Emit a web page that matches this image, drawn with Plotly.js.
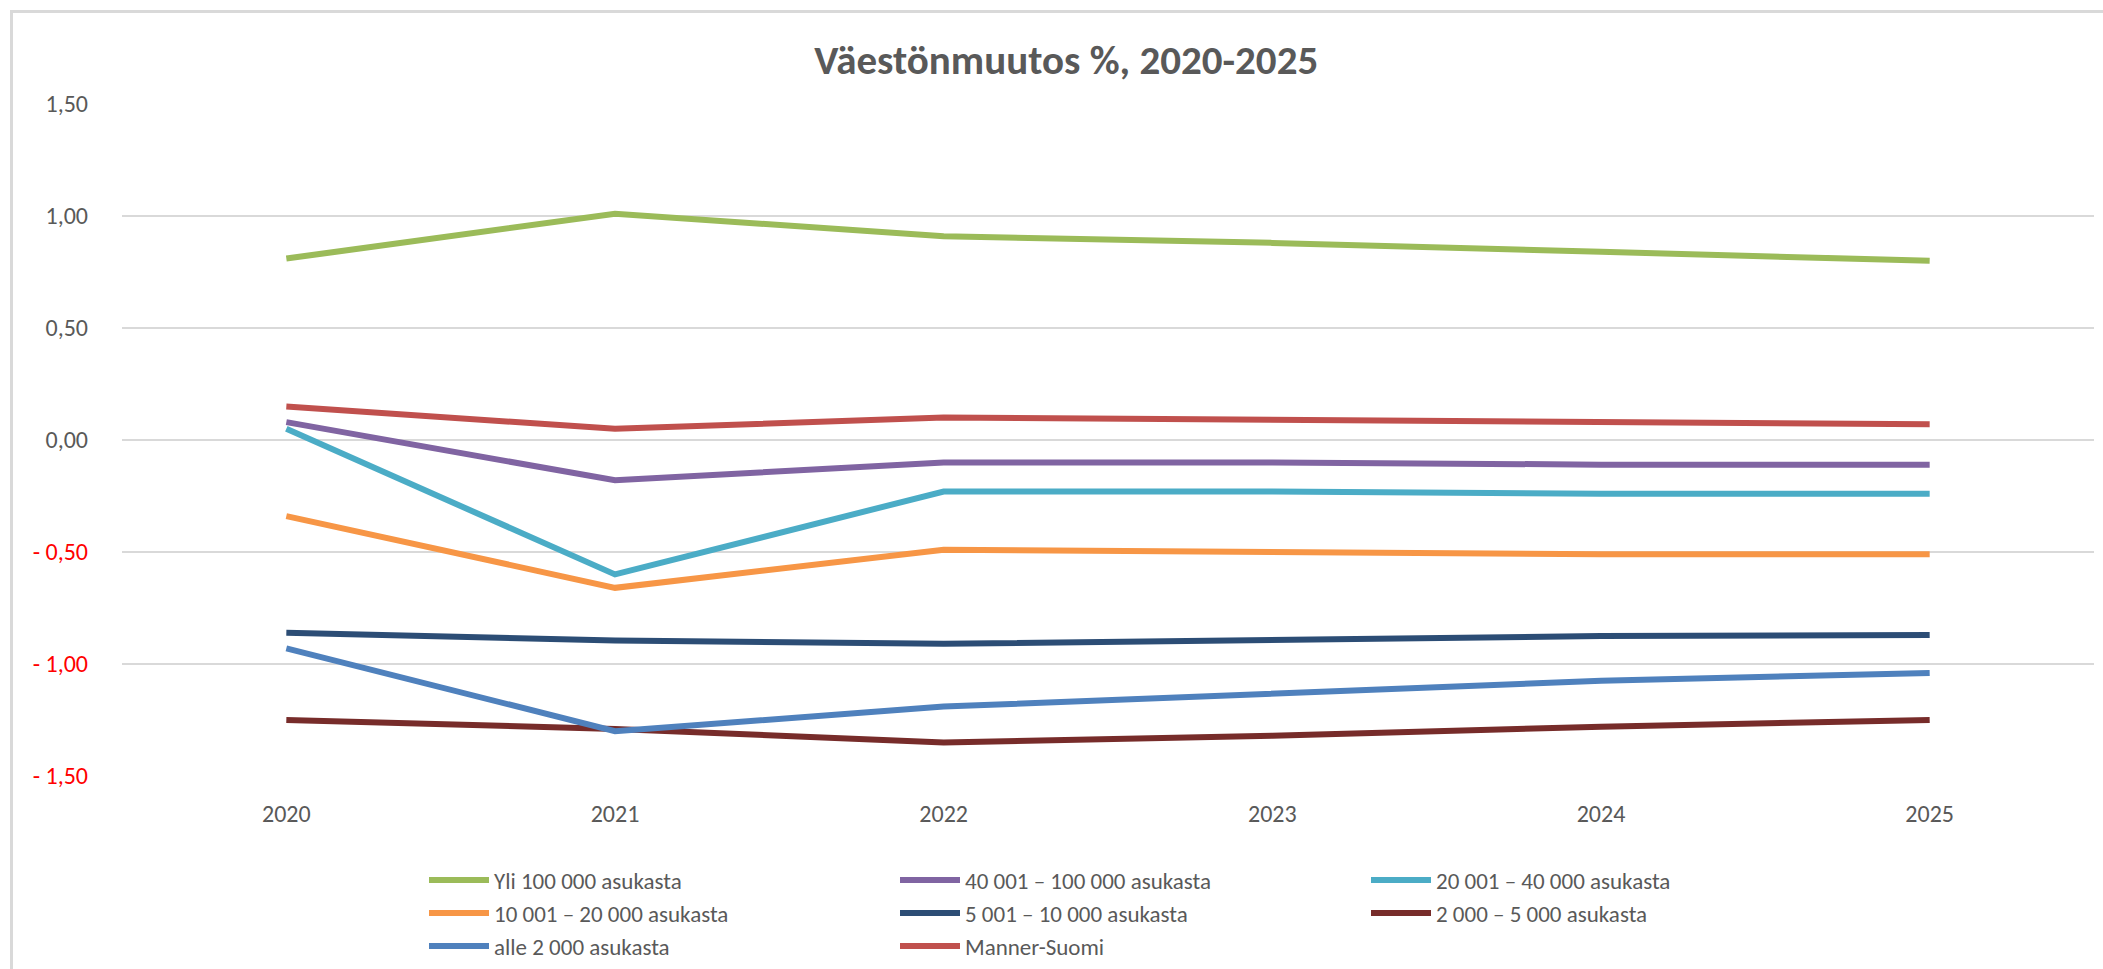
<!DOCTYPE html>
<html>
<head>
<meta charset="utf-8">
<script src="https://cdn.plot.ly/plotly-3.0.1.min.js"></script>
<style>
  html, body { margin: 0; padding: 0; background: #ffffff; overflow: hidden; }
  #frame { position: absolute; left: 10px; top: 10px; width: 2200px; height: 1100px;
           border-left: 3px solid #d9d9d9; border-top: 3px solid #d9d9d9; box-sizing: border-box; }
  #chart { position: absolute; left: 0; top: 0; width: 2103px; height: 1010px; }
</style>
</head>
<body>
<div id="frame"></div>
<div id="chart"></div>
<script>
// ---- Data ----
const years = ["2020", "2021", "2022", "2023", "2024", "2025"];

const seriesNames = [
  "Yli 100 000 asukasta",
  "40 001 – 100 000 asukasta",
  "20 001 – 40 000 asukasta",
  "10 001 – 20 000 asukasta",
  "5 001 – 10 000 asukasta",
  "2 000 – 5 000 asukasta",
  "alle 2 000 asukasta",
  "Manner-Suomi"
];

const yli100000   = [0.81, 1.01, 0.91, 0.88, 0.84, 0.80];
const v40to100    = [0.08, -0.18, -0.10, -0.10, -0.11, -0.11];
const v20to40     = [0.05, -0.60, -0.23, -0.23, -0.24, -0.24];
const v10to20     = [-0.34, -0.66, -0.49, -0.50, -0.51, -0.51];
const v5to10      = [-0.86, -0.895, -0.91, -0.89, -0.875, -0.87];
const v2to5       = [-1.25, -1.29, -1.35, -1.32, -1.28, -1.25];
const alle2000    = [-0.93, -1.30, -1.19, -1.13, -1.075, -1.04];
const mannerSuomi = [0.15, 0.05, 0.10, 0.09, 0.08, 0.07];

const seriesValues = [yli100000, v40to100, v20to40, v10to20, v5to10, v2to5, alle2000, mannerSuomi];

const yTickVals = [1.5, 1.0, 0.5, 0.0, -0.5, -1.0, -1.5];
const yTickText = ["1,50", "1,00", "0,50", "0,00", "- 0,50", "- 1,00", "- 1,50"];

const titleText = "Väestönmuutos %, 2020-2025";

// ---- Styles ----
const colors = ["#9BBB59", "#8064A2", "#4BACC6", "#F79646", "#2C4D75", "#772C2A", "#4F81BD", "#C0504D"];
const FONT = "Carlito, Lato, 'Liberation Sans', sans-serif";
const GREY = "#595959";
// legend columns (Excel-style 3-column legend, filled row by row)
const legendIds = ["legend", "legend2", "legend3"];

const traces = seriesNames.map((name, i) => ({
  type: "scatter",
  mode: "lines",
  name: name,
  x: years,
  y: seriesValues[i],
  line: { color: colors[i], width: 6, shape: "linear" },
  legend: legendIds[i % 3],
  hoverinfo: "skip"
}));

const tickTextStyled = yTickText.map((t, i) =>
  yTickVals[i] < 0 ? '<span style="color:#FF0000">' + t + '</span>' : t);

function legendCol(xPaper) {
  return {
    orientation: "v",
    x: xPaper, xanchor: "left",
    y: -0.123, yanchor: "top",
    font: { family: FONT, size: 23, color: GREY },
    itemwidth: 60,
    tracegroupgap: 0,
    bgcolor: "rgba(0,0,0,0)",
    borderwidth: 0,
    traceorder: "normal"
  };
}

const layout = {
  width: 2103,
  height: 1010,
  paper_bgcolor: "rgba(0,0,0,0)",
  plot_bgcolor: "rgba(0,0,0,0)",
  margin: { l: 122, r: 9, t: 104, b: 234, pad: 0 },
  showlegend: true,
  title: {
    text: "<b>" + titleText + "</b>",
    font: { family: FONT, size: 41, color: GREY },
    x: 0.507, xref: "container", xanchor: "center",
    y: 1 - 60 / 1010, yref: "container", yanchor: "middle"
  },
  xaxis: {
    type: "category",
    range: [-0.5, 5.5],
    showgrid: false,
    zeroline: false,
    showline: false,
    ticks: "",
    tickfont: { family: FONT, size: 24, color: GREY },
    ticklabelstandoff: 21,
    fixedrange: true
  },
  yaxis: {
    range: [-1.5, 1.5],
    tickvals: yTickVals,
    ticktext: tickTextStyled,
    showgrid: true,
    gridcolor: "#d9d9d9",
    gridwidth: 2,
    zeroline: false,
    showline: false,
    ticks: "",
    tickfont: { family: FONT, size: 24, color: GREY },
    ticklabelstandoff: 33,
    fixedrange: true
  },
  legend: legendCol((424 - 122) / 1972),
  legend2: legendCol((895 - 122) / 1972),
  legend3: legendCol((1366 - 122) / 1972),
  hovermode: false
};

Plotly.newPlot("chart", traces, layout, { displayModeBar: false, staticPlot: true });
</script>
</body>
</html>
